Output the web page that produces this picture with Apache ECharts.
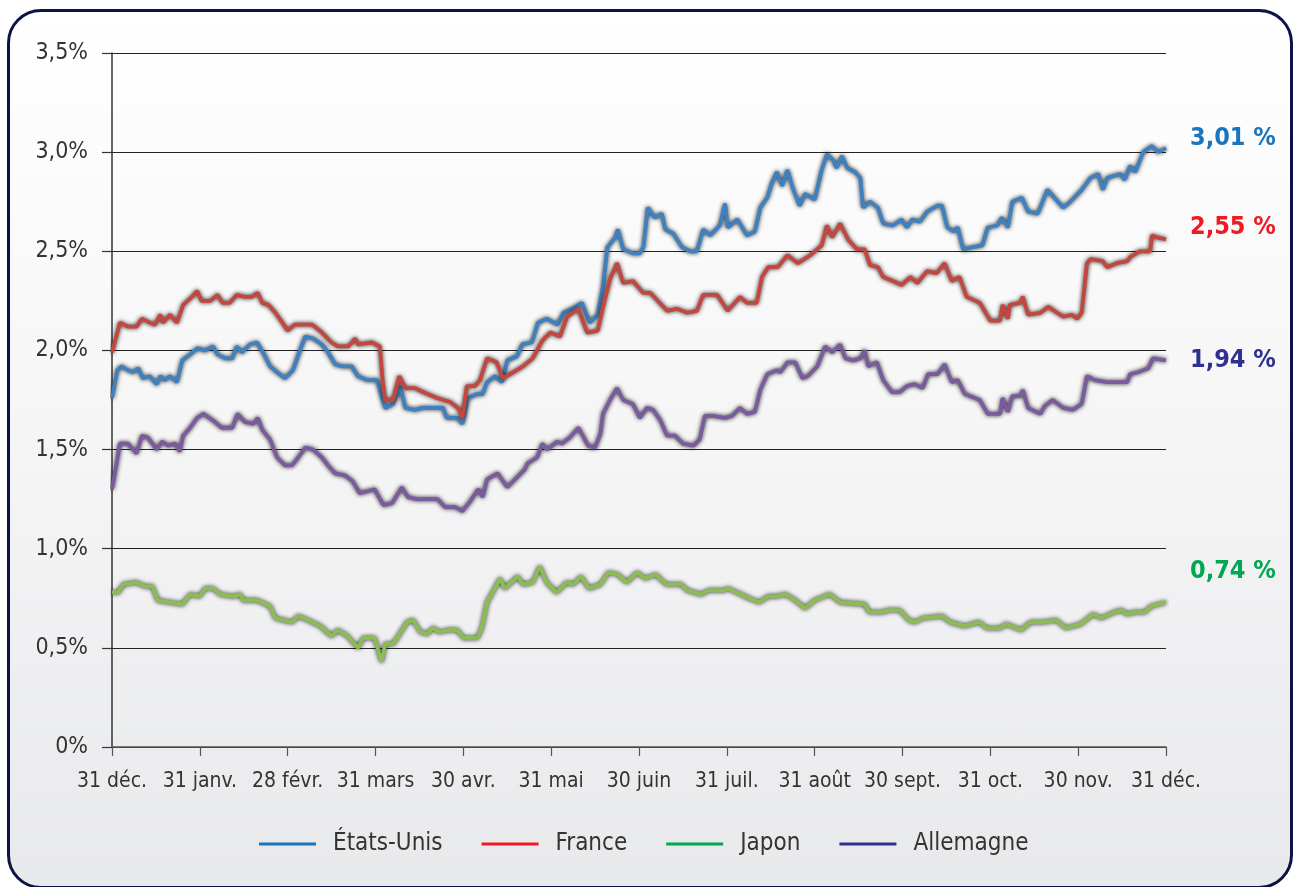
<!DOCTYPE html>
<html>
<head>
<meta charset="utf-8">
<script src="https://cdn.jsdelivr.net/npm/echarts@6/dist/echarts.min.js"></script>
<style>
html,body{margin:0;padding:0;width:1293px;height:887px;background:#fff;overflow:hidden;}
#frame{position:absolute;left:7px;top:9px;width:1280px;height:874px;border:3px solid #0c1346;border-radius:34px;
background:linear-gradient(to bottom,#ffffff 0%,#f6f6f7 45%,#e8e9eb 100%);}
#chart{position:absolute;left:0;top:0;width:1293px;height:887px;}
</style>
</head>
<body>
<div id="frame"></div>
<div id="chart"></div>
<script>
// x = months elapsed since 31 déc. (0 … 12), y = 10-year yield in %
const monthLabels = ['31 déc.', '31 janv.', '28 févr.', '31 mars', '30 avr.', '31 mai', '30 juin', '31 juil.', '31 août', '30 sept.', '31 oct.', '30 nov.', '31 déc.'];
const yLabels = ['0%', '0,5%', '1,0%', '1,5%', '2,0%', '2,5%', '3,0%', '3,5%'];
const seriesNames = ['États-Unis', 'France', 'Japon', 'Allemagne'];
const endLabels = ['3,01 %', '2,55 %', '0,74 %', '1,94 %'];

const usData = [[0,1.76],[0.06,1.90],[0.11,1.92],[0.18,1.90],[0.24,1.89],[0.30,1.91],[0.35,1.86],[0.43,1.87],[0.51,1.83],[0.55,1.87],[0.60,1.85],[0.66,1.87],[0.74,1.84],[0.80,1.95],[0.89,1.98],[0.97,2.01],[1.06,2.00],[1.15,2.02],[1.20,1.98],[1.29,1.96],[1.37,1.96],[1.42,2.02],[1.48,1.99],[1.57,2.03],[1.65,2.04],[1.72,1.99],[1.80,1.92],[1.88,1.89],[1.97,1.86],[2.06,1.90],[2.14,2.00],[2.20,2.07],[2.29,2.06],[2.39,2.03],[2.46,1.99],[2.54,1.93],[2.62,1.92],[2.73,1.92],[2.80,1.87],[2.91,1.85],[3.02,1.85],[3.11,1.71],[3.20,1.73],[3.28,1.82],[3.34,1.71],[3.45,1.70],[3.54,1.71],[3.77,1.71],[3.81,1.66],[3.93,1.66],[3.99,1.63],[4.05,1.76],[4.16,1.78],[4.22,1.78],[4.27,1.84],[4.36,1.87],[4.44,1.84],[4.50,1.95],[4.61,1.97],[4.67,2.03],[4.78,2.04],[4.85,2.14],[4.95,2.16],[5.07,2.13],[5.14,2.19],[5.24,2.21],[5.35,2.24],[5.44,2.14],[5.53,2.18],[5.59,2.32],[5.64,2.52],[5.73,2.57],[5.76,2.61],[5.82,2.51],[5.93,2.49],[6.01,2.49],[6.05,2.52],[6.10,2.72],[6.18,2.67],[6.26,2.69],[6.30,2.61],[6.39,2.59],[6.49,2.52],[6.58,2.50],[6.66,2.50],[6.73,2.61],[6.81,2.58],[6.92,2.63],[6.98,2.74],[7.01,2.62],[7.12,2.66],[7.23,2.58],[7.32,2.60],[7.38,2.72],[7.46,2.77],[7.51,2.84],[7.57,2.90],[7.63,2.83],[7.69,2.91],[7.75,2.82],[7.83,2.73],[7.89,2.79],[8.00,2.76],[8.08,2.91],[8.14,2.99],[8.21,2.96],[8.25,2.92],[8.31,2.98],[8.37,2.92],[8.46,2.90],[8.52,2.87],[8.55,2.72],[8.63,2.75],[8.72,2.72],[8.78,2.64],[8.89,2.63],[8.99,2.66],[9.05,2.62],[9.11,2.66],[9.20,2.65],[9.28,2.70],[9.40,2.73],[9.45,2.73],[9.51,2.62],[9.58,2.60],[9.63,2.62],[9.69,2.51],[9.79,2.52],[9.91,2.53],[9.97,2.62],[10.08,2.63],[10.13,2.67],[10.20,2.62],[10.25,2.75],[10.36,2.77],[10.43,2.70],[10.54,2.69],[10.65,2.81],[10.71,2.78],[10.83,2.72],[10.91,2.75],[11.04,2.81],[11.14,2.87],[11.23,2.89],[11.28,2.81],[11.33,2.87],[11.48,2.89],[11.53,2.86],[11.59,2.93],[11.65,2.90],[11.74,3.00],[11.84,3.03],[11.91,3.00],[12.00,3.02]];

const franceData = [[0,1.99],[0.09,2.14],[0.18,2.12],[0.28,2.12],[0.34,2.16],[0.43,2.14],[0.49,2.13],[0.55,2.18],[0.58,2.14],[0.66,2.18],[0.74,2.14],[0.81,2.23],[0.91,2.27],[0.97,2.30],[1.02,2.25],[1.12,2.25],[1.20,2.28],[1.26,2.24],[1.34,2.24],[1.42,2.28],[1.51,2.27],[1.59,2.27],[1.66,2.29],[1.71,2.24],[1.78,2.23],[1.86,2.19],[1.94,2.14],[2.00,2.10],[2.08,2.13],[2.28,2.13],[2.39,2.09],[2.50,2.04],[2.57,2.02],[2.69,2.02],[2.77,2.06],[2.80,2.03],[2.96,2.04],[3.05,2.02],[3.08,1.85],[3.11,1.75],[3.20,1.75],[3.27,1.87],[3.34,1.81],[3.45,1.81],[3.54,1.79],[3.70,1.76],[3.85,1.74],[3.94,1.71],[3.99,1.66],[4.04,1.82],[4.13,1.82],[4.19,1.85],[4.27,1.96],[4.38,1.94],[4.45,1.86],[4.57,1.89],[4.68,1.92],[4.79,1.96],[4.90,2.05],[4.99,2.09],[5.10,2.07],[5.18,2.17],[5.31,2.21],[5.41,2.09],[5.53,2.10],[5.59,2.22],[5.67,2.36],[5.75,2.44],[5.82,2.34],[5.93,2.35],[6.05,2.29],[6.13,2.29],[6.32,2.20],[6.43,2.21],[6.55,2.19],[6.66,2.20],[6.73,2.28],[6.89,2.28],[7.01,2.20],[7.15,2.27],[7.23,2.24],[7.34,2.24],[7.40,2.37],[7.47,2.42],[7.58,2.42],[7.69,2.48],[7.81,2.44],[7.95,2.48],[8.08,2.53],[8.14,2.63],[8.20,2.57],[8.29,2.64],[8.38,2.56],[8.48,2.51],[8.57,2.51],[8.63,2.43],[8.72,2.42],[8.78,2.37],[8.89,2.35],[8.99,2.33],[9.09,2.37],[9.17,2.34],[9.28,2.40],[9.39,2.39],[9.48,2.44],[9.56,2.35],[9.65,2.37],[9.73,2.27],[9.88,2.24],[10.00,2.15],[10.11,2.15],[10.14,2.23],[10.20,2.16],[10.22,2.23],[10.34,2.24],[10.37,2.27],[10.43,2.18],[10.57,2.19],[10.66,2.22],[10.76,2.19],[10.83,2.17],[10.93,2.18],[10.99,2.16],[11.04,2.19],[11.10,2.44],[11.14,2.46],[11.28,2.45],[11.33,2.42],[11.44,2.44],[11.56,2.45],[11.59,2.47],[11.70,2.50],[11.82,2.50],[11.84,2.58],[11.90,2.57],[12.00,2.56]];

const germanyData = [[0,1.30],[0.06,1.45],[0.09,1.53],[0.18,1.53],[0.28,1.48],[0.34,1.57],[0.41,1.56],[0.51,1.50],[0.57,1.54],[0.64,1.52],[0.72,1.53],[0.77,1.49],[0.81,1.57],[0.89,1.61],[0.97,1.66],[1.04,1.68],[1.14,1.65],[1.25,1.61],[1.37,1.61],[1.43,1.68],[1.51,1.64],[1.61,1.63],[1.66,1.66],[1.71,1.60],[1.80,1.55],[1.88,1.46],[1.97,1.42],[2.05,1.42],[2.12,1.46],[2.20,1.51],[2.29,1.50],[2.39,1.46],[2.46,1.42],[2.54,1.38],[2.65,1.37],[2.74,1.34],[2.82,1.28],[2.91,1.29],[2.99,1.30],[3.09,1.22],[3.19,1.23],[3.30,1.31],[3.37,1.26],[3.47,1.25],[3.71,1.25],[3.79,1.21],[3.91,1.21],[3.99,1.19],[4.08,1.24],[4.17,1.30],[4.22,1.26],[4.27,1.35],[4.39,1.38],[4.50,1.31],[4.61,1.36],[4.70,1.40],[4.73,1.43],[4.84,1.46],[4.90,1.53],[4.95,1.50],[5.07,1.54],[5.12,1.53],[5.21,1.56],[5.31,1.61],[5.36,1.57],[5.42,1.52],[5.50,1.51],[5.56,1.58],[5.59,1.68],[5.67,1.75],[5.75,1.81],[5.82,1.75],[5.93,1.73],[6.01,1.66],[6.09,1.71],[6.16,1.70],[6.24,1.65],[6.32,1.57],[6.41,1.57],[6.50,1.53],[6.62,1.52],[6.69,1.55],[6.75,1.67],[6.84,1.67],[6.98,1.66],[7.06,1.67],[7.15,1.71],[7.23,1.68],[7.32,1.69],[7.38,1.80],[7.46,1.88],[7.57,1.90],[7.61,1.89],[7.69,1.94],[7.78,1.94],[7.86,1.86],[7.92,1.87],[8.03,1.92],[8.12,2.02],[8.20,1.99],[8.29,2.03],[8.35,1.96],[8.44,1.95],[8.52,1.96],[8.57,2.00],[8.61,1.92],[8.71,1.94],[8.78,1.85],[8.88,1.79],[8.97,1.79],[9.05,1.82],[9.14,1.83],[9.23,1.81],[9.29,1.88],[9.40,1.88],[9.48,1.93],[9.56,1.84],[9.63,1.85],[9.71,1.78],[9.88,1.75],[9.97,1.68],[10.11,1.68],[10.14,1.76],[10.20,1.69],[10.25,1.77],[10.34,1.77],[10.37,1.80],[10.43,1.71],[10.57,1.68],[10.62,1.72],[10.71,1.75],[10.83,1.71],[10.94,1.70],[11.04,1.73],[11.10,1.87],[11.19,1.85],[11.33,1.84],[11.56,1.84],[11.59,1.88],[11.68,1.89],[11.80,1.91],[11.85,1.96],[12.00,1.95]];

const japanData = [[0,0.78],[0.07,0.78],[0.13,0.82],[0.28,0.83],[0.38,0.81],[0.46,0.81],[0.52,0.74],[0.66,0.73],[0.80,0.72],[0.89,0.77],[1.00,0.76],[1.06,0.80],[1.15,0.80],[1.23,0.77],[1.38,0.76],[1.46,0.77],[1.49,0.74],[1.65,0.74],[1.80,0.71],[1.86,0.65],[1.95,0.64],[2.05,0.63],[2.12,0.66],[2.23,0.64],[2.37,0.61],[2.50,0.56],[2.57,0.59],[2.68,0.56],[2.80,0.50],[2.86,0.55],[2.99,0.55],[3.07,0.43],[3.11,0.52],[3.20,0.52],[3.26,0.56],[3.36,0.63],[3.43,0.64],[3.51,0.58],[3.59,0.57],[3.65,0.60],[3.73,0.58],[3.83,0.59],[3.93,0.59],[4.00,0.55],[4.16,0.55],[4.21,0.60],[4.27,0.73],[4.42,0.85],[4.47,0.80],[4.62,0.86],[4.68,0.82],[4.79,0.83],[4.87,0.91],[4.95,0.83],[5.06,0.78],[5.18,0.83],[5.25,0.82],[5.34,0.86],[5.43,0.80],[5.56,0.82],[5.65,0.88],[5.76,0.87],[5.86,0.83],[5.98,0.88],[6.07,0.85],[6.19,0.87],[6.31,0.82],[6.48,0.82],[6.55,0.79],[6.71,0.77],[6.79,0.79],[6.97,0.79],[7.01,0.80],[7.16,0.77],[7.25,0.75],[7.37,0.73],[7.47,0.76],[7.56,0.76],[7.67,0.77],[7.78,0.74],[7.89,0.70],[8.00,0.74],[8.17,0.77],[8.29,0.73],[8.57,0.72],[8.62,0.68],[8.77,0.68],[8.84,0.69],[8.97,0.69],[9.07,0.64],[9.14,0.63],[9.23,0.65],[9.45,0.66],[9.54,0.63],[9.71,0.61],[9.87,0.63],[9.96,0.60],[10.11,0.60],[10.18,0.62],[10.35,0.59],[10.46,0.63],[10.60,0.63],[10.75,0.64],[10.86,0.60],[11.03,0.62],[11.17,0.67],[11.26,0.65],[11.41,0.68],[11.50,0.69],[11.55,0.67],[11.65,0.68],[11.76,0.68],[11.83,0.71],[12.00,0.73]];

const dataBySeries = [usData, franceData, japanData, germanyData];
const lineColors = ['#3f80bf', '#c4473f', '#8cbd55', '#7a5c9e'];
const legendColors = ['#1b75bc', '#ed1c24', '#00a651', '#2e3192'];
const labelColors = ['#1b75bc', '#ed1c24', '#00a651', '#2e3192'];
const labelOffsets = [[0, -10], [0, -12], [0, -31], [0, 0]];

const FONT = "'Liberation Sans Narrow', 'DejaVu Sans Condensed', 'Roboto Condensed', sans-serif";

const chart = echarts.init(document.getElementById('chart'), null, {renderer: 'canvas'});

const drawOrder = [3, 2, 0, 1];
const series = drawOrder.map(i => ({
  name: seriesNames[i],
  type: 'line',
  data: dataBySeries[i],
  symbol: 'none',
  smooth: false,
  z: 3,
  lineStyle: {
    color: lineColors[i],
    width: 3.8,
    shadowColor: 'rgba(30,30,30,0.95)',
    shadowBlur: 4
  },
  itemStyle: {color: legendColors[i]},
  emphasis: {disabled: true},
  endLabel: {
    show: true,
    formatter: () => endLabels[i],
    color: labelColors[i],
    fontFamily: FONT,
    fontWeight: 'bold',
    fontSize: 25,
    distance: 24,
    offset: labelOffsets[i]
  }
}));

chart.setOption({
  backgroundColor: 'transparent',
  animation: false,
  textStyle: {fontFamily: FONT},
  grid: {left: 112, right: 127, top: 53, bottom: 140, containLabel: false, outerBoundsMode: 'none'},
  legend: {
    left: 254,
    top: 827,
    itemWidth: 57,
    itemHeight: 3,
    itemGap: 39,
    icon: 'rect',
    textStyle: {fontFamily: FONT, fontSize: 24, color: '#333', padding: [0, 0, 0, 12]},
    data: seriesNames.map((n, i) => ({name: n, itemStyle: {color: legendColors[i]}}))
  },
  xAxis: {
    type: 'value',
    min: 0,
    max: 12,
    interval: 1,
    splitLine: {show: false},
    axisLine: {show: true, lineStyle: {color: '#555', width: 1.5}},
    axisTick: {show: true, length: 9, lineStyle: {color: '#555', width: 1.2}},
    axisLabel: {
      formatter: v => monthLabels[Math.round(v)] || '',
      fontFamily: FONT, fontSize: 21, color: '#333', margin: 24
    }
  },
  yAxis: {
    type: 'value',
    min: 0,
    max: 3.5,
    interval: 0.5,
    splitLine: {show: true, lineStyle: {color: '#222', width: 1.2}},
    axisLine: {show: true, onZero: false, lineStyle: {color: '#333', width: 1.5}},
    axisTick: {show: true, length: 10, lineStyle: {color: '#333', width: 1.2}},
    axisLabel: {
      formatter: v => yLabels[Math.round(v * 2)] || '',
      fontFamily: FONT, fontSize: 23, color: '#333', margin: 24
    }
  },
  series: series
});
</script>
</body>
</html>
